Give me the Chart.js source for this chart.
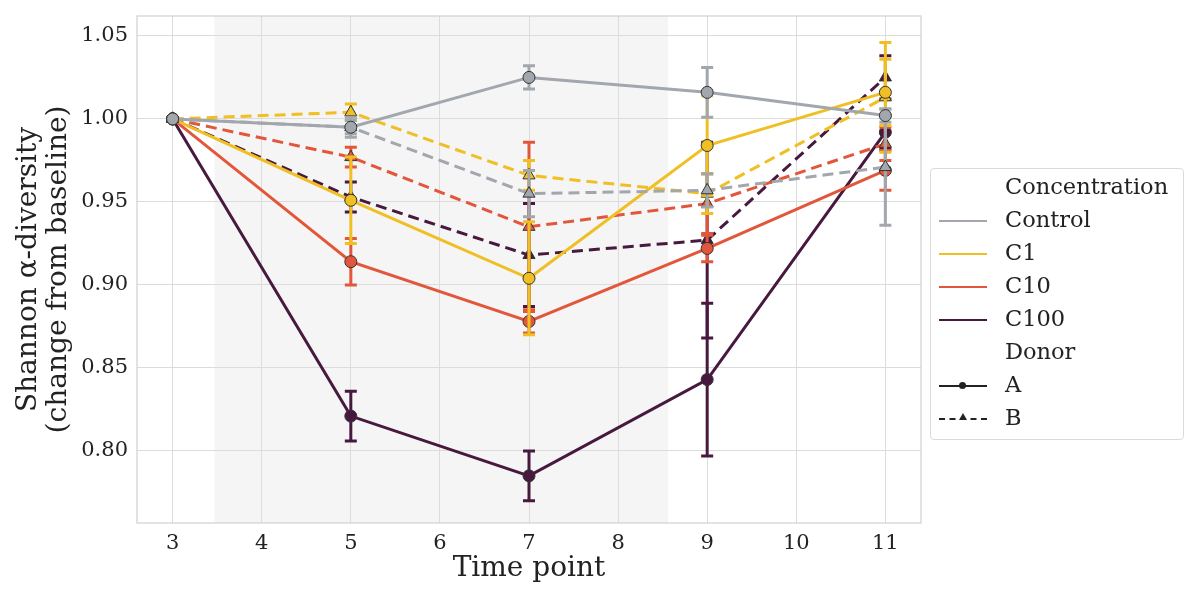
<!DOCTYPE html>
<html>
<head>
<meta charset="utf-8">
<script src="https://cdn.jsdelivr.net/npm/chart.js@4.4.1/dist/chart.umd.min.js"></script>
<style>
  body { margin: 0; background: #fff; }
  #wrap { position: relative; width: 1200px; height: 598px; }
  #legend {
    position: absolute; left: 930px; top: 168px; width: 254px; height: 272px;
    border: 1px solid #dadada; border-radius: 4px; box-sizing: border-box;
    font-family: "DejaVu Serif", serif; font-size: 22.5px; color: #222;
  }
  .row { position: absolute; left: 0; height: 30px; width: 100%; }
  .row span { position: absolute; left: 74px; top: 1px; }
  .ln { position: absolute; left: 8px; width: 48px; top: 15px; height: 0; border-top: 2px solid; }
  .dot { position: absolute; left: 28px; top: 12px; width: 7px; height: 7px; border-radius: 50%; background: #222; }
  .tri { position: absolute; left: 28px; top: 10px; width: 0; height: 0;
         border-left: 4px solid transparent; border-right: 4px solid transparent; border-bottom: 7px solid #222; }
</style>
</head>
<body>
<div id="wrap">
  <canvas id="chart" width="1200" height="598"></canvas>
  <div id="legend"></div>
</div>
<script>
document.addEventListener('DOMContentLoaded', function() {
    const timePoints = [3, 5, 7, 9, 11];
    const xTicks = [3, 4, 5, 6, 7, 8, 9, 10, 11];
    const yTicks = [0.80, 0.85, 0.90, 0.95, 1.00, 1.05];
    const shadeFrom = 3.47, shadeTo = 8.56;

    // means per concentration / donor
    const controlA = [1.000, 0.995, 1.025, 1.016, 1.002];
    const controlB = [1.000, 0.995, 0.955, 0.957, 0.971];
    const c1A      = [1.000, 0.951, 0.904, 0.984, 1.016];
    const c1B      = [1.000, 1.004, 0.966, 0.955, 1.013];
    const c10A     = [1.000, 0.914, 0.878, 0.922, 0.969];
    const c10B     = [1.000, 0.977, 0.935, 0.949, 0.985];
    const c100A    = [1.000, 0.821, 0.785, 0.843, 0.992];
    const c100B    = [1.000, 0.953, 0.918, 0.927, 1.025];

    // half-width of error bars
    const controlAErr = [0, 0.004, 0.007, 0.015, 0.004];
    const controlBErr = [0, 0.006, 0.014, 0.010, 0.035];
    const c1AErr      = [0, 0.026, 0.034, 0.030, 0.020];
    const c1BErr      = [0, 0.005, 0.009, 0.012, 0.033];
    const c10AErr     = [0, 0.014, 0.007, 0.008, 0.012];
    const c10BErr     = [0, 0.006, 0.051, 0.018, 0.010];
    const c100AErr    = [0, 0.015, 0.015, 0.046, 0.010];
    const c100BErr    = [0, 0.009, 0.031, 0.059, 0.013];

    const colors = {
        Control: '#a2a6ad',
        C1: '#f0bf24',
        C10: '#e2573b',
        C100: '#48193f'
    };

    function series(label, conc, donor, vals, errs) {
        const dashed = donor === 'B';
        return {
            label: label,
            data: timePoints.map((t, i) => ({ x: t, y: vals[i] })),
            errors: errs,
            borderColor: colors[conc],
            backgroundColor: colors[conc],
            borderWidth: 3,
            borderDash: dashed ? [11, 6] : [],
            pointStyle: dashed ? 'triangle' : 'circle',
            pointRadius: dashed ? 7 : 6,
            pointBackgroundColor: colors[conc],
            pointBorderColor: '#333',
            pointBorderWidth: 1,
            tension: 0
        };
    }

    const datasets = [
        series('Control A', 'Control', 'A', controlA, controlAErr),
        series('Control B', 'Control', 'B', controlB, controlBErr),
        series('C1 A', 'C1', 'A', c1A, c1AErr),
        series('C1 B', 'C1', 'B', c1B, c1BErr),
        series('C10 A', 'C10', 'A', c10A, c10AErr),
        series('C10 B', 'C10', 'B', c10B, c10BErr),
        series('C100 A', 'C100', 'A', c100A, c100AErr),
        series('C100 B', 'C100', 'B', c100B, c100BErr)
    ];

    // shaded exposure window + frame
    const shadePlugin = {
        id: 'shade',
        beforeDraw(chart) {
            const { ctx, chartArea, scales } = chart;
            const x0 = scales.x.getPixelForValue(shadeFrom);
            const x1 = scales.x.getPixelForValue(shadeTo);
            ctx.save();
            ctx.fillStyle = '#f5f5f5';
            ctx.fillRect(x0, chartArea.top, x1 - x0, chartArea.bottom - chartArea.top);
            ctx.restore();
        },
        beforeDatasetsDraw(chart) {
            const { ctx, chartArea } = chart;
            ctx.save();
            ctx.strokeStyle = '#d0d0d0';
            ctx.lineWidth = 1.2;
            ctx.strokeRect(chartArea.left, chartArea.top, chartArea.right - chartArea.left, chartArea.bottom - chartArea.top);
            ctx.restore();
        }
    };

    const errorBarPlugin = {
        id: 'errorBars',
        beforeDatasetDraw(chart, args) {
            const ds = chart.data.datasets[args.index];
            const { ctx, scales } = chart;
            ctx.save();
            ctx.strokeStyle = ds.borderColor;
            ctx.lineWidth = 3;
            ctx.setLineDash([]);
            ds.data.forEach((p, i) => {
                const e = ds.errors[i];
                if (!e) return;
                const x = scales.x.getPixelForValue(p.x);
                const yTop = scales.y.getPixelForValue(p.y + e);
                const yBot = scales.y.getPixelForValue(p.y - e);
                ctx.beginPath();
                ctx.moveTo(x, yTop); ctx.lineTo(x, yBot);
                ctx.moveTo(x - 6, yTop); ctx.lineTo(x + 6, yTop);
                ctx.moveTo(x - 6, yBot); ctx.lineTo(x + 6, yBot);
                ctx.stroke();
            });
            ctx.restore();
        }
    };

    const serif = '"DejaVu Serif", serif';

    new Chart(document.getElementById('chart').getContext('2d'), {
        type: 'line',
        data: { datasets: datasets },
        plugins: [shadePlugin, errorBarPlugin],
        options: {
            responsive: false,
            animation: false,
            layout: { padding: { top: 16, right: 279, left: 0, bottom: 0 } },
            plugins: { legend: { display: false }, tooltip: { enabled: false } },
            scales: {
                x: {
                    type: 'linear',
                    min: 2.6,
                    max: 11.4,
                    afterBuildTicks(axis) { axis.ticks = xTicks.map(v => ({ value: v })); },
                    afterFit(axis) { axis.height = 75; axis.paddingLeft = 0; axis.paddingRight = 0; },
                    grid: { color: '#dcdcdc', drawTicks: false },
                    border: { display: false },
                    ticks: { font: { family: serif, size: 21 }, color: '#222', padding: 8 },
                    title: {
                        display: true, text: 'Time point', color: '#222',
                        font: { family: serif, size: 28 }, padding: { top: 0, bottom: 12 }
                    }
                },
                y: {
                    min: 0.7566,
                    max: 1.062,
                    afterBuildTicks(axis) { axis.ticks = yTicks.map(v => ({ value: v })); },
                    afterFit(axis) { axis.width = 137; axis.paddingTop = 0; axis.paddingBottom = 0; },
                    grid: { color: '#dcdcdc', drawTicks: false },
                    border: { display: false },
                    ticks: {
                        font: { family: serif, size: 21 }, color: '#222', padding: 9,
                        callback: v => v.toFixed(2)
                    },
                    title: {
                        display: true, text: ['Shannon \u03b1-diversity', '(change from baseline)'], color: '#222',
                        font: { family: serif, size: 28, lineHeight: 1.1 }, padding: { bottom: 0, top: 13 }
                    }
                }
            }
        }
    });

    // legend
    const legendRows = [
        { text: 'Concentration' },
        { text: 'Control', color: colors.Control },
        { text: 'C1', color: colors.C1 },
        { text: 'C10', color: colors.C10 },
        { text: 'C100', color: colors.C100 },
        { text: 'Donor' },
        { text: 'A', color: '#222', marker: 'dot' },
        { text: 'B', color: '#222', marker: 'tri', dashed: true }
    ];
    const legend = document.getElementById('legend');
    legendRows.forEach((r, i) => {
        const row = document.createElement('div');
        row.className = 'row';
        row.style.top = (3 + i * 33) + 'px';
        if (r.color) {
            const ln = document.createElement('div');
            ln.className = 'ln';
            ln.style.borderTopColor = r.color;
            if (r.dashed) ln.style.borderTopStyle = 'dashed';
            row.appendChild(ln);
        }
        if (r.marker) {
            const m = document.createElement('div');
            m.className = r.marker;
            row.appendChild(m);
        }
        const s = document.createElement('span');
        s.textContent = r.text;
        row.appendChild(s);
        legend.appendChild(row);
    });
});
</script>
</body>
</html>
